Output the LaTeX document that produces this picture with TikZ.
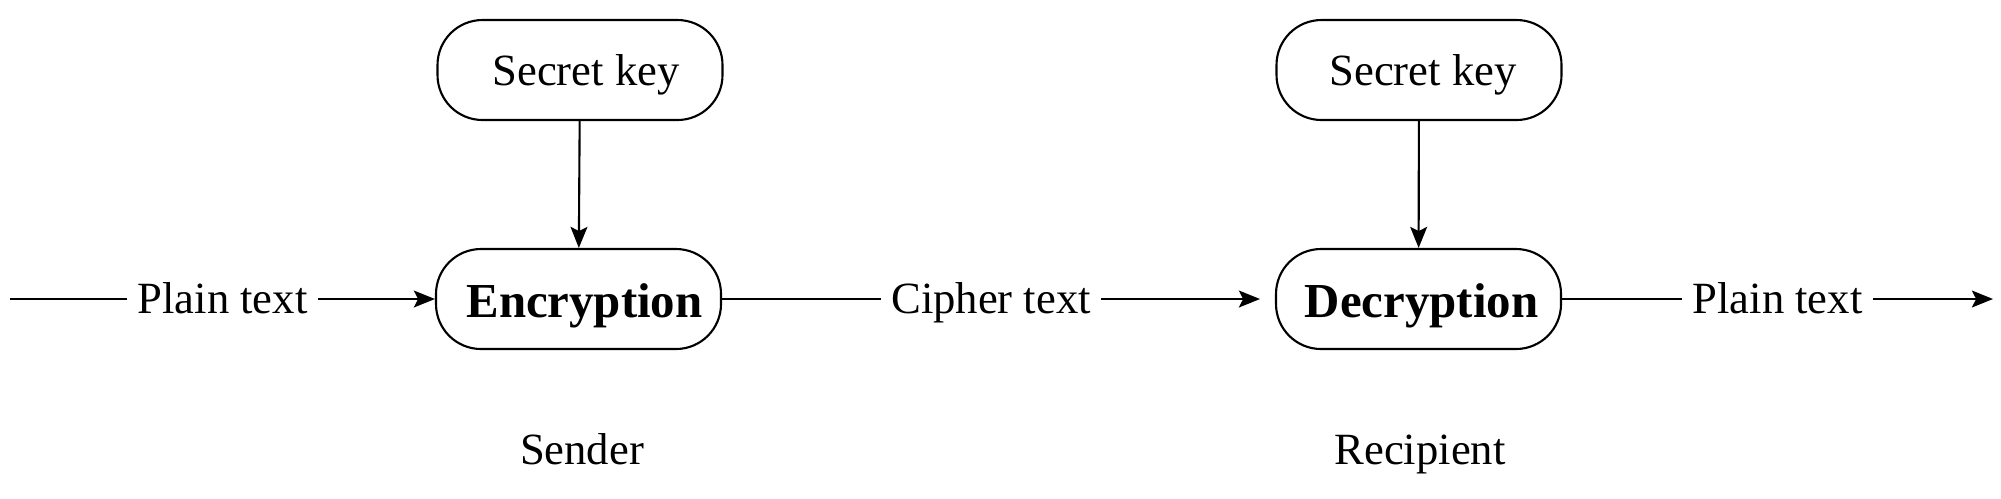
\documentclass[tikz,border=0pt]{standalone}
\usepackage{fontspec}
\setmainfont{Liberation Serif}
\usetikzlibrary{arrows.meta}

\tikzset{
    roundbox/.style={draw, line width=0.6pt, rounded corners=0.45cm, minimum width=2.85cm, minimum height=1cm, inner sep=0pt},
    keytext/.style={font=\fontsize{12.7}{15}\selectfont, text height=8.6pt, text depth=0pt},
    steptext/.style={font=\fontsize{13.9}{16}\selectfont\bfseries, text height=10.6pt, text depth=0pt},
    flow/.style={line width=0.6pt, -{Stealth[length=6pt, width=4.8pt, inset=1.2pt]}},
    linelabel/.style={fill=white, font=\fontsize{12.7}{15}\selectfont, text height=8pt, text depth=0pt, inner sep=3pt}
}

\begin{document}
\begin{tikzpicture}
    \useasboundingbox (0,0) rectangle (20.01,4.98);

    % sender side
    \node[roundbox, keytext] (key1) at (5.80,4.28) {\hspace*{0.12cm}Secret key};
    \node[roundbox, steptext] (enc) at (5.785,1.99) {\hspace*{0.12cm}Encryption};
    \node[keytext] (sender) at (5.82,0.49) {Sender};

    % recipient side
    \node[roundbox, keytext] (key2) at (14.19,4.28) {\hspace*{0.08cm}Secret key};
    \node[roundbox, steptext] (dec) at (14.185,1.99) {\hspace*{0.06cm}Decryption};
    \node[keytext] (recipient) at (14.20,0.49) {Recipient};

    \coordinate (start) at (0.10,1.99);
    \coordinate (cipherend) at (12.60,1.99);
    \coordinate (finish) at (19.93,1.99);

    \draw[flow] (key1) -- (enc);
    \draw[flow] (key2) -- (dec);

    \draw[flow] (start) -- node[linelabel]{Plain text} (enc);
    \draw[flow] (enc) -- node[linelabel]{Cipher text} (cipherend);
    \draw[flow] (dec) -- node[linelabel]{Plain text} (finish);
\end{tikzpicture}
\end{document}
